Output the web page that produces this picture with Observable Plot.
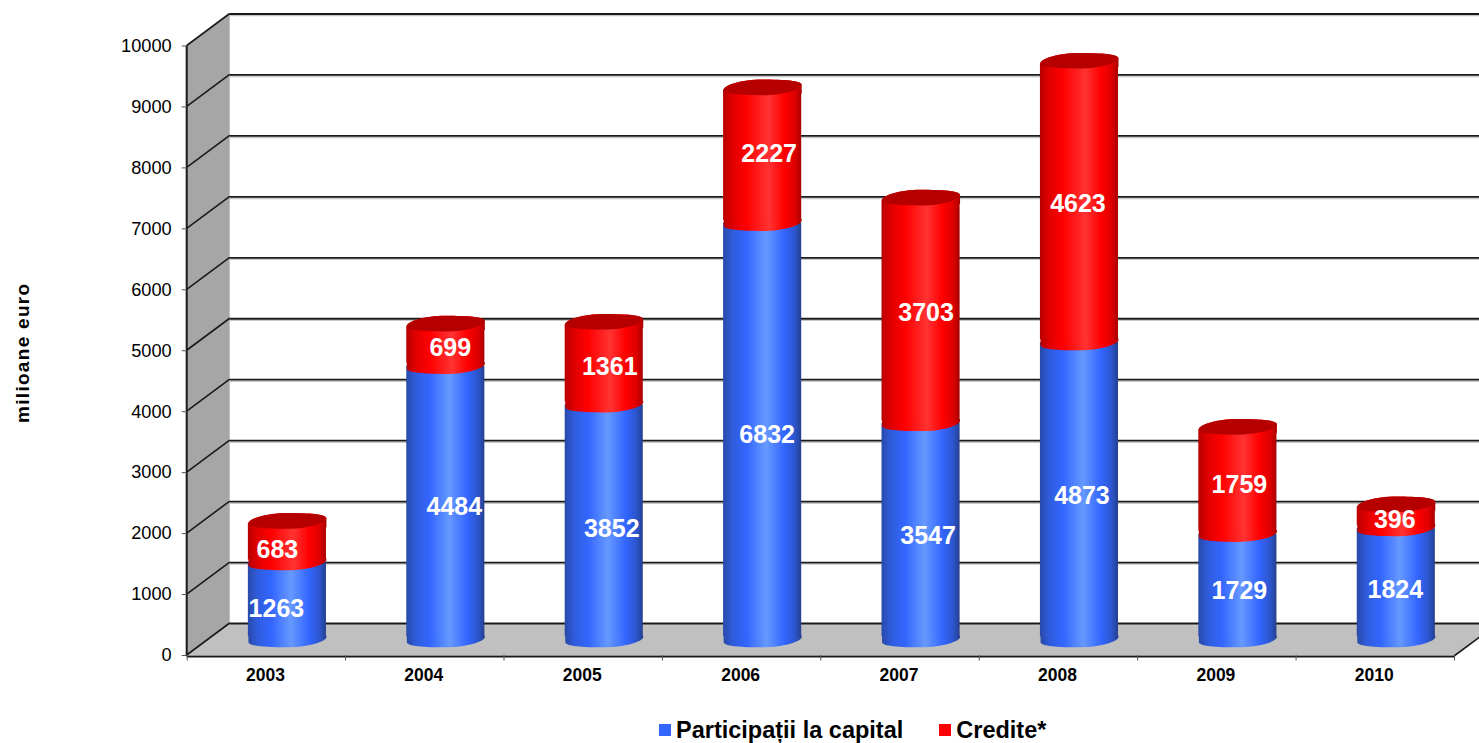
<!DOCTYPE html>
<html lang="ro">
<head>
<meta charset="utf-8">
<style>
html,body{margin:0;padding:0;background:#fff;overflow:hidden}
#legend{height:31px;padding-left:659px;padding-top:5px;box-sizing:border-box;display:flex;align-items:center;font:bold 23.5px "Liberation Sans",Arial,sans-serif;color:#000}
#legend i{display:inline-block;width:12px;height:12px;margin-right:5px}
#legend span{display:inline-flex;align-items:center;white-space:nowrap}
#legend span+span{margin-left:36px}
.ylab text,text.ylab{letter-spacing:1.3px}
</style>
<script src="https://cdn.jsdelivr.net/npm/d3@7"></script>
<script src="https://cdn.jsdelivr.net/npm/@observablehq/plot@0.6"></script>
</head>
<body>
<div id="chart"></div>
<div id="legend"><span><i style="background:#3366ff"></i>Participații la capital</span><span><i style="background:#ff0000"></i>Credite*</span></div>
<script>
// ---- data ----
const years = ["2003","2004","2005","2006","2007","2008","2009","2010"];
const participatii = [1263,4484,3852,6832,3547,4873,1729,1824];
const credite = [683,699,1361,2227,3703,4623,1759,396];
const yTicks = [0,1000,2000,3000,4000,5000,6000,7000,8000,9000,10000];

// ---- layout / style ----
const font = '"Liberation Sans",Arial,sans-serif';
const depthX = 43, depthY = -32;
const barDx = 21, barDy = depthY / 2;
const rx = 39, ry = 7.8, tilt = 2.4, neck = 4, barInset = 2.6;
const halfStep = 79.23;
const blueNudgeX = [10,29.5,28.5,25.5,28,23.5,22.5,20], blueNudgeY = [-8.5,-12,-9.6,-12,-11,-10.5,-12,-10];
const redNudgeX  = [11,25.5,26.5,27.5,26,19.5,22.5,19.5], redNudgeY  = [-8,-12.4,-12,-17.7,-13,-14,-12,-12];

const rows = years.map((year,i)=>({year, blue:participatii[i], red:credite[i], total:participatii[i]+credite[i]}));

// tilted-ellipse pieces, used as custom dot symbols
const K = 0.5523;
function lowerHalf(p){ // from left end, round the front, to right end
  p.bezierCurveTo(-rx, tilt+K*ry, -K*rx, ry, 0, ry);
  p.bezierCurveTo(K*rx, ry, rx, -tilt+K*ry, rx, -tilt);
}
function upperHalf(p){ // from left end, round the back, to right end
  p.bezierCurveTo(-rx, tilt-K*ry, -K*rx, -ry, 0, -ry);
  p.bezierCurveTo(K*rx, -ry, rx, -tilt-K*ry, rx, -tilt);
}
const bottomCap = {draw(p){ p.moveTo(-rx,-neck); p.lineTo(-rx,tilt); lowerHalf(p); p.lineTo(rx,-neck); p.closePath(); }};
const topNeck   = {draw(p){ p.moveTo(-rx,neck+tilt); p.lineTo(-rx,tilt); upperHalf(p); p.lineTo(rx,neck+tilt); p.closePath(); }};
const topFace   = {draw(p){ p.moveTo(-rx,tilt); upperHalf(p);
  p.bezierCurveTo(rx,-tilt+K*ry, K*rx, ry, 0, ry);
  p.bezierCurveTo(-K*rx, ry, -rx, tilt+K*ry, -rx, tilt); p.closePath(); }};

function gradient(id, stops){
  return `<linearGradient id="${id}" x1="0" x2="1" y1="0" y2="0">` +
    stops.map(([o,c])=>`<stop offset="${o}" stop-color="${c}"/>`).join("") + `</linearGradient>`;
}
function defs(){
  const d = document.createElementNS("http://www.w3.org/2000/svg","defs");
  d.innerHTML =
    gradient("gBlue",[[0,"#2a4aa8"],[.12,"#2f5cdc"],[.3,"#3366ff"],[.55,"#6699ff"],[.78,"#3366ff"],[.92,"#2c55cc"],[1,"#23408f"]]) +
    gradient("gRed",[[0,"#b80000"],[.12,"#e00000"],[.3,"#ff0000"],[.58,"#ff3333"],[.78,"#ff0000"],[.92,"#dd0000"],[1,"#a80000"]]);
  return d;
}

// walls, floor and the front axis edges, positioned from the y and frame scales
function room(index, {y}, values, {marginLeft, width, marginRight}){
  const x0 = marginLeft, x1 = width - marginRight;
  const y0 = y(yTicks[0]), yMax = y(yTicks[yTicks.length-1]);
  const g = d3.create("svg:g");
  g.append("path").attr("fill","#a6a6a6")
    .attr("d",`M${x0},${y0}L${x0},${yMax}L${x0+depthX},${yMax+depthY}L${x0+depthX},${y0+depthY}Z`);
  g.append("path").attr("fill","#c0c0c0")
    .attr("d",`M${x0},${y0}L${x0+depthX},${y0+depthY}L${x1+depthX},${y0+depthY}L${x1},${y0}Z`);
  g.selectAll("line.d").data(yTicks).join("line")
    .attr("x1",x0).attr("y1",d=>y(d)).attr("x2",x0+depthX).attr("y2",d=>y(d)+depthY)
    .attr("stroke","#1a1a1a").attr("stroke-width",1.6);
  g.append("line").attr("x1",x1).attr("y1",y0+1).attr("x2",x1+depthX).attr("y2",y0+1+depthY)
    .attr("stroke","#1a1a1a").attr("stroke-width",1.6);
  return g.node();
}
function leftEdge(index, {y}, values, {marginLeft}){
  const g = d3.create("svg:line")
    .attr("x1",marginLeft).attr("x2",marginLeft)
    .attr("y1",y(yTicks[yTicks.length-1])).attr("y2",y(yTicks[0])+1)
    .attr("stroke","#1a1a1a").attr("stroke-width",2);
  return g.node();
}

const capOpts = {x:"year", r:1, dx:barDx, dy:barDy, stroke:"none"};
const labelMarks = years.flatMap((yr,i)=>[
  Plot.text([rows[i]],{x:"year",y:d=>d.blue/2,text:d=>String(d.blue),dx:blueNudgeX[i],dy:blueNudgeY[i],
    fill:"#fff",fontSize:25,fontWeight:"bold",fontFamily:font}),
  Plot.text([rows[i]],{x:"year",y:d=>d.blue+d.red/2,text:d=>String(d.red),dx:redNudgeX[i],dy:redNudgeY[i],
    fill:"#fff",fontSize:25,fontWeight:"bold",fontFamily:font})
]);

const chart = Plot.plot({
  width:1479, height:712,
  marginLeft:186.7, marginRight:25, marginTop:45.5, marginBottom:57,
  style:{background:"#fff",overflow:"hidden",display:"block",fontFamily:font},
  x:{domain:years, paddingInner:.507, paddingOuter:.2535, round:false, axis:null},
  y:{domain:[0,10000], axis:null},
  marks:[
    defs,
    room,
    Plot.ruleY(yTicks,{dx:depthX,dy:depthY+1.6,stroke:"#c8c8c8",strokeWidth:1.4}),
    Plot.ruleY(yTicks,{dx:depthX,dy:depthY,stroke:"#1a1a1a",strokeWidth:1.8}),
    Plot.ruleY([0],{stroke:"#1a1a1a",strokeWidth:2,dy:1}),
    leftEdge,
    Plot.axisY(yTicks,{anchor:"left",tickSize:5,tickPadding:10.5,fontSize:18.2,label:null,stroke:"#555",fill:"#000",tickFormat:d=>String(d)}),
    Plot.ruleX(years,{x:d=>d,y1:()=>0,y2:()=>-90,dx:-halfStep,stroke:"#555",strokeWidth:1}),
    Plot.ruleX(years.slice(-1),{x:d=>d,y1:()=>0,y2:()=>-90,dx:halfStep,stroke:"#555",strokeWidth:1}),
    Plot.axisX({anchor:"bottom",tickSize:0,tickPadding:13,fontSize:17.5,fontWeight:"bold",label:null,fill:"#000",dx:-1}),
    Plot.text(["milioane euro"],{frameAnchor:"left",textAnchor:"middle",dx:-164,dy:2,rotate:-90,fontSize:19,fontWeight:"bold",fontFamily:font,fill:"#000",className:"ylab"}),

    Plot.dot(rows,{...capOpts,y:()=>0,symbol:bottomCap,fill:"url(#gBlue)"}),
    Plot.barY(rows,{x:"year",y1:()=>0,y2:"blue",fill:"url(#gBlue)",dx:barDx,dy:barDy,insetBottom:barInset}),
    Plot.barY(rows,{x:"year",y1:"blue",y2:"total",fill:"url(#gRed)",dx:barDx,dy:barDy,insetBottom:barInset,insetTop:barInset}),
    Plot.dot(rows,{...capOpts,y:"blue",symbol:bottomCap,fill:"url(#gRed)"}),
    Plot.dot(rows,{...capOpts,y:"total",symbol:topNeck,fill:"url(#gRed)"}),
    Plot.dot(rows,{...capOpts,y:"total",symbol:topFace,fill:"#b60000"}),
    ...labelMarks
  ]
});
document.getElementById("chart").appendChild(chart);
</script>
</body>
</html>
